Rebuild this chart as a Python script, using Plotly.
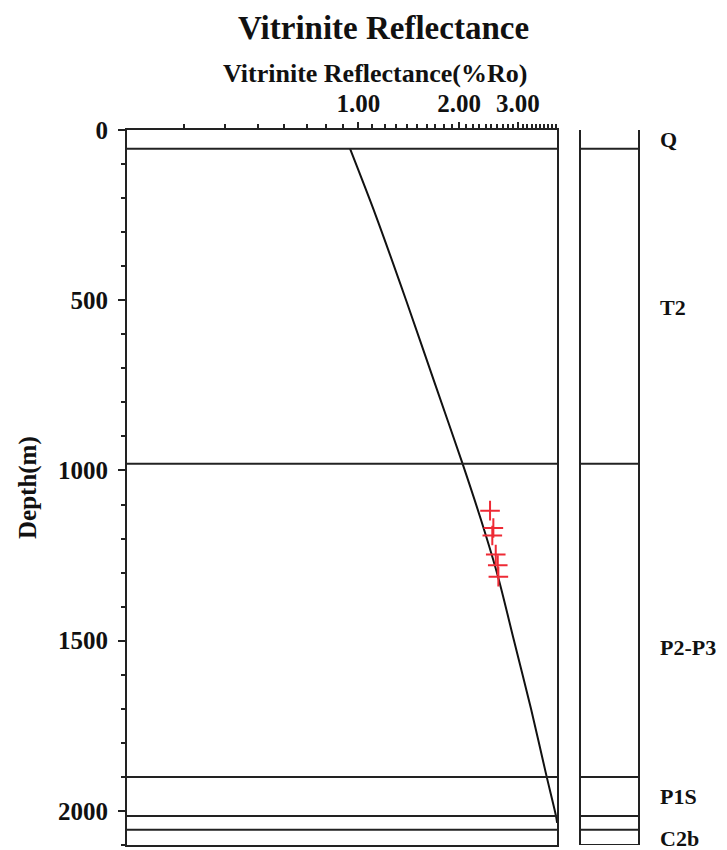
import plotly.graph_objects as go

# ---- data ----
curve_depth = [55, 250, 500, 750, 980, 1150, 1312, 1500, 1700, 1897, 2015, 2035]
curve_ro = [0.944, 1.126, 1.389, 1.701, 2.049, 2.335, 2.616, 2.921, 3.283, 3.652, 3.90, 3.93]

meas_depth = [1118, 1169, 1191, 1247, 1278, 1312]
meas_ro = [2.476, 2.533, 2.515, 2.575, 2.611, 2.622]

boundaries = [55, 980, 1900, 2015, 2055]
formations = ["Q", "T2", "P2-P3", "P1S", "C2b"]
label_depth = [28, 520, 1520, 1958, 2080]

x_major = [1, 2, 3]
x_major_text = ["1.00", "2.00", "3.00"]
x_minor = [round(0.1 * i, 1) for i in range(3, 40) if i not in (10, 20, 30)]
y_major = [0, 500, 1000, 1500, 2000]

FONT = "Liberation Serif"
LC = "#222222"
TC = "#111111"

fig = go.Figure()
fig.add_trace(go.Scatter(x=curve_ro, y=curve_depth, mode="lines",
                         line=dict(color="#111111", width=2, shape="spline", smoothing=0.8),
                         showlegend=False))
fig.add_trace(go.Scatter(x=meas_ro, y=meas_depth, mode="markers",
                         marker=dict(symbol="cross-thin", size=14,
                                     line=dict(width=2, color="#ee2a35")),
                         showlegend=False))

main_right = (557 - 127) / 512
col_left = (580 - 127) / 512

tickfont = dict(family=FONT, size=25, color=TC, weight="bold")

# the page body adds an 8px offset, so the figure is 8px smaller than the window
fig.update_layout(
    width=719, height=842,
    margin=dict(l=119, r=88, t=122, b=5, autoexpand=False),
    paper_bgcolor="white", plot_bgcolor="white",
    font=dict(family=FONT, size=24, color=TC),
    xaxis=dict(type="log", side="top", domain=[0, main_right],
               range=[-0.692, 0.594], automargin=False,
               tickmode="array", tickvals=x_major, ticktext=x_major_text,
               ticks="outside", ticklen=6, tickwidth=2, tickcolor=LC,
               ticklabelstandoff=0,
               minor=dict(tickmode="array", tickvals=x_minor, ticks="outside",
                          ticklen=4, tickwidth=2, tickcolor=LC, showgrid=False),
               showline=True, linewidth=2, linecolor=LC, mirror=True,
               showgrid=False, zeroline=False, tickfont=tickfont),
    yaxis=dict(range=[2100, 0], automargin=False,
               tickmode="array", tickvals=y_major,
               ticks="outside", ticklen=7, tickwidth=2, tickcolor=LC,
               ticklabelstandoff=5,
               minor=dict(dtick=100, ticks="outside", ticklen=4, tickwidth=2,
                          tickcolor=LC, showgrid=False),
               showline=True, linewidth=2, linecolor=LC, mirror=True,
               showgrid=False, zeroline=False, tickfont=tickfont),
)

shapes = []
for d in boundaries:
    shapes.append(dict(type="line", xref="x domain", yref="y", x0=0, x1=1,
                       y0=d, y1=d, line=dict(color=LC, width=2)))
# lithology column
shapes.append(dict(type="rect", xref="paper", yref="y", x0=col_left, x1=1,
                   y0=2100, y1=-6, line=dict(color=LC, width=2)))
for d in boundaries:
    shapes.append(dict(type="line", xref="paper", yref="y", x0=col_left, x1=1,
                       y0=d, y1=d, line=dict(color=LC, width=2)))
fig.update_layout(shapes=shapes)

ann = []
ann.append(dict(text="Vitrinite Reflectance", xref="paper", yref="paper",
                x=(383 - 127) / 512, y=(845 - 28) / 715, showarrow=False,
                xanchor="center", yanchor="middle",
                font=dict(family=FONT, size=33, color=TC, weight="bold")))
ann.append(dict(text="Vitrinite Reflectance(%Ro)", xref="paper", yref="paper",
                x=(375 - 127) / 512, y=(845 - 73) / 715, showarrow=False,
                xanchor="center", yanchor="middle",
                font=dict(family=FONT, size=26, color=TC, weight="bold")))
ann.append(dict(text="Depth(m)", xref="paper", yref="paper",
                x=(28 - 127) / 512, y=(845 - 488) / 715, showarrow=False,
                textangle=-90, xanchor="center", yanchor="middle",
                font=dict(family=FONT, size=25, color=TC, weight="bold")))
for name, d in zip(formations, label_depth):
    ann.append(dict(text=name, xref="paper", yref="y",
                    x=(658 - 127) / 512, y=d, showarrow=False,
                    xanchor="left", yanchor="middle",
                    font=dict(family=FONT, size=22, color=TC, weight="bold")))
fig.update_layout(annotations=ann)

fig.write_html("out.html")
